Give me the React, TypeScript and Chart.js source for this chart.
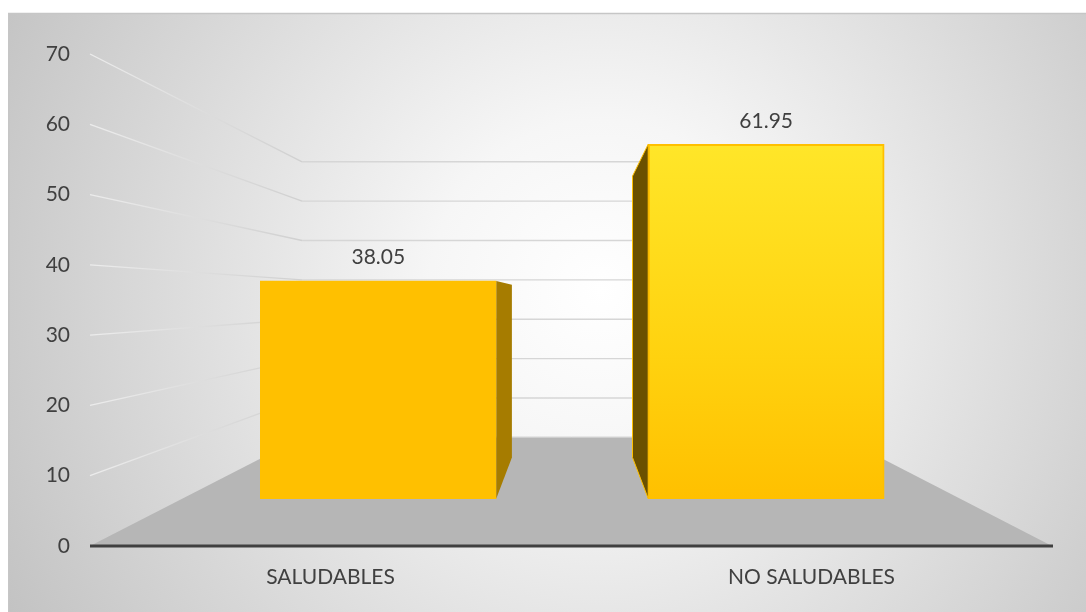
import React, { useEffect, useRef } from 'react';
import { Chart, registerables } from 'chart.js';

Chart.register(...registerables);

// ---- data ----
const categories = ['SALUDABLES', 'NO SALUDABLES'];
const values = [38.05, 61.95];
const valueLabels = ['38.05', '61.95'];
const yTicks = [0, 10, 20, 30, 40, 50, 60, 70];

// ---- layout / style constants ----
const W = 1086;
const H = 612;
const PLOT = { left: 90, right: 1052, top: 54, bottom: 546 };
const VP = { x: 572, y: 299 }; // vanishing point of the 3D projection
const WALL = 0.56; // depth factor of the back wall
const BAR_BACK = 0.794; // back face of bars relative to front face
const BAR_FRONT_ZERO = 498.6;
const BAR_FRONT_PX = 5.72;
const BAR_CENTER0 = 378.3;
const BAR_STEP = 387.9;
const BAR_W = 236;
const FONT = 'Lato, "Noto Sans", sans-serif';
const TEXT = '#404040';

const persp = (x: number, y: number, s: number) => ({
  x: VP.x + s * (x - VP.x),
  y: VP.y + s * (y - VP.y),
});

const scenePlugin = {
  id: 'scene3d',
  beforeDraw(chart: any) {
    const ctx = chart.ctx as CanvasRenderingContext2D;
    const ys = chart.scales.y;
    const { left: L, right: R } = chart.chartArea;
    ctx.save();
    ctx.fillStyle = '#ffffff';
    ctx.fillRect(0, 0, W, H);
    const g = ctx.createRadialGradient(600, 290, 0, 600, 290, 680);
    g.addColorStop(0, '#ffffff');
    g.addColorStop(0.25, '#f6f6f6');
    g.addColorStop(1, '#c2c2c2');
    ctx.fillStyle = g;
    ctx.fillRect(9, 13, W - 9, H - 13);
    ctx.strokeStyle = '#c6c6c6';
    ctx.lineWidth = 1.5;
    ctx.beginPath();
    ctx.moveTo(8.75, H);
    ctx.lineTo(8.75, 13.5);
    ctx.lineTo(W, 13.5);
    ctx.stroke();

    const floorY = ys.getPixelForValue(0);
    const wl = persp(L, floorY, WALL);
    const wr = persp(R, floorY, WALL);

    // side-wall lines and back-wall gridlines
    yTicks.forEach((v) => {
      if (v === 0) return;
      const py = ys.getPixelForValue(v);
      const b = persp(L, py, WALL);
      const lg = ctx.createLinearGradient(L, 0, b.x, 0);
      lg.addColorStop(0, 'rgba(236,236,236,1)');
      lg.addColorStop(1, 'rgba(208,208,208,1)');
      ctx.strokeStyle = lg;
      ctx.lineWidth = 1.4;
      ctx.beginPath();
      ctx.moveTo(L, py);
      ctx.lineTo(b.x, b.y);
      ctx.stroke();
      ctx.strokeStyle = '#d6d6d6';
      ctx.beginPath();
      ctx.moveTo(b.x, b.y);
      ctx.lineTo(wr.x, b.y);
      ctx.stroke();
    });

    // floor
    ctx.fillStyle = '#b6b6b6';
    ctx.beginPath();
    ctx.moveTo(L, floorY);
    ctx.lineTo(R, floorY);
    ctx.lineTo(wr.x, wr.y);
    ctx.lineTo(wl.x, wl.y);
    ctx.closePath();
    ctx.fill();
    ctx.strokeStyle = '#dedede';
    ctx.lineWidth = 1;
    ctx.beginPath();
    ctx.moveTo(wl.x, wl.y - 0.5);
    ctx.lineTo(wr.x, wr.y - 0.5);
    ctx.stroke();

    // axis line
    ctx.strokeStyle = '#404040';
    ctx.lineWidth = 3;
    ctx.beginPath();
    ctx.moveTo(L, floorY);
    ctx.lineTo(R + 1, floorY);
    ctx.stroke();
    ctx.restore();
  },
  afterDatasetsDraw(chart: any) {
    const ctx = chart.ctx as CanvasRenderingContext2D;
    const meta = chart.getDatasetMeta(0);
    ctx.save();
    meta.data.forEach((el: any, i: number) => {
      const { x, y, base, width } = el.getProps(['x', 'y', 'base', 'width'], true);
      const left = x - width / 2;
      const right = x + width / 2;
      if (right < VP.x) {
        const a = persp(right, y, BAR_BACK);
        const b = persp(right, base, BAR_BACK);
        ctx.fillStyle = '#a67c00';
        ctx.beginPath();
        ctx.moveTo(right, y);
        ctx.lineTo(a.x, a.y);
        ctx.lineTo(b.x, b.y);
        ctx.lineTo(right, base);
        ctx.closePath();
        ctx.fill();
      }
      if (left > VP.x) {
        const a = persp(left, y, BAR_BACK);
        const b = persp(left, base, BAR_BACK);
        ctx.fillStyle = '#6a5000';
        ctx.beginPath();
        ctx.moveTo(left, y);
        ctx.lineTo(a.x, a.y);
        ctx.lineTo(b.x, b.y);
        ctx.lineTo(left, base);
        ctx.closePath();
        ctx.fill();
        ctx.strokeStyle = '#ffc000';
        ctx.lineWidth = 1;
        ctx.stroke();
      }
      if (y > VP.y) {
        const a = persp(left, y, BAR_BACK);
        const b = persp(right, y, BAR_BACK);
        ctx.fillStyle = '#ffd54a';
        ctx.beginPath();
        ctx.moveTo(left, y);
        ctx.lineTo(right, y);
        ctx.lineTo(b.x, b.y);
        ctx.lineTo(a.x, a.y);
        ctx.closePath();
        ctx.fill();
      }
      ctx.fillStyle = TEXT;
      ctx.font = `21px ${FONT}`;
      ctx.textAlign = 'center';
      ctx.textBaseline = 'alphabetic';
      ctx.fillText(valueLabels[i], x, y - 16.5);
    });
    ctx.restore();
  },
};

export default function App() {
  const ref = useRef<HTMLCanvasElement | null>(null);
  useEffect(() => {
    document.body.style.margin = '0';
    const canvas = ref.current;
    if (!canvas) return;
    const xbMin = (PLOT.left - BAR_CENTER0) / BAR_STEP;
    const xbMax = (PLOT.right - BAR_CENTER0) / BAR_STEP;
    const ybMin = (BAR_FRONT_ZERO - PLOT.bottom) / BAR_FRONT_PX;
    const ybMax = (BAR_FRONT_ZERO - PLOT.top) / BAR_FRONT_PX;

    const chart = new Chart(canvas, {
      type: 'bar',
      data: {
        labels: categories,
        datasets: [
          {
            label: 'Series',
            data: values.map((v, i) => ({ x: i, y: v })) as any,
            xAxisID: 'xb',
            yAxisID: 'yb',
            barThickness: BAR_W,
            borderWidth: 2,
            borderSkipped: false,
            borderColor: '#ffc000',
            backgroundColor: (c: any) => {
              const ch = c.chart;
              if (c.dataIndex !== 1 || !ch.scales || !ch.scales.yb) return '#ffc000';
              const s = ch.scales.yb;
              const top = s.getPixelForValue(values[1]);
              const bot = s.getPixelForValue(0);
              if (!isFinite(top) || !isFinite(bot)) return '#ffc000';
              const g = ch.ctx.createLinearGradient(0, top, 0, bot);
              g.addColorStop(0, '#ffe629');
              g.addColorStop(0.6, '#ffd20f');
              g.addColorStop(1, '#ffc000');
              return g;
            },
          },
        ],
      },
      options: {
        animation: false,
        responsive: false,
        devicePixelRatio: 1,
        layout: { padding: { left: 0, right: W - PLOT.right, top: PLOT.top, bottom: 0 } },
        plugins: { legend: { display: false }, tooltip: { enabled: false } },
        scales: {
          x: {
            type: 'category',
            position: 'bottom',
            offset: true,
            grid: { display: false, drawTicks: false, offset: true },
            border: { display: false },
            ticks: {
              color: TEXT,
              font: { family: FONT, size: 21 },
              padding: 19,
              maxRotation: 0,
              autoSkip: false,
            },
            afterFit: (s: any) => {
              s.height = H - PLOT.bottom;
            },
          },
          y: {
            type: 'linear',
            position: 'left',
            min: 0,
            max: 70,
            grid: { display: false, drawTicks: false },
            border: { display: false },
            ticks: { color: TEXT, font: { family: FONT, size: 21 }, padding: 20 },
            afterBuildTicks: (s: any) => {
              s.ticks = yTicks.map((v) => ({ value: v }));
            },
            afterFit: (s: any) => {
              s.width = PLOT.left;
            },
          },
          xb: {
            type: 'linear',
            display: false,
            offset: false,
            min: xbMin,
            max: xbMax,
            grid: { offset: false },
          },
          yb: {
            type: 'linear',
            display: false,
            position: 'left',
            min: ybMin,
            max: ybMax,
          },
        },
      },
      plugins: [scenePlugin],
    });
    return () => chart.destroy();
  }, []);
  return (
    <div style={{ width: W, height: H }}>
      <canvas ref={ref} width={W} height={H} style={{ display: 'block' }} />
    </div>
  );
}
